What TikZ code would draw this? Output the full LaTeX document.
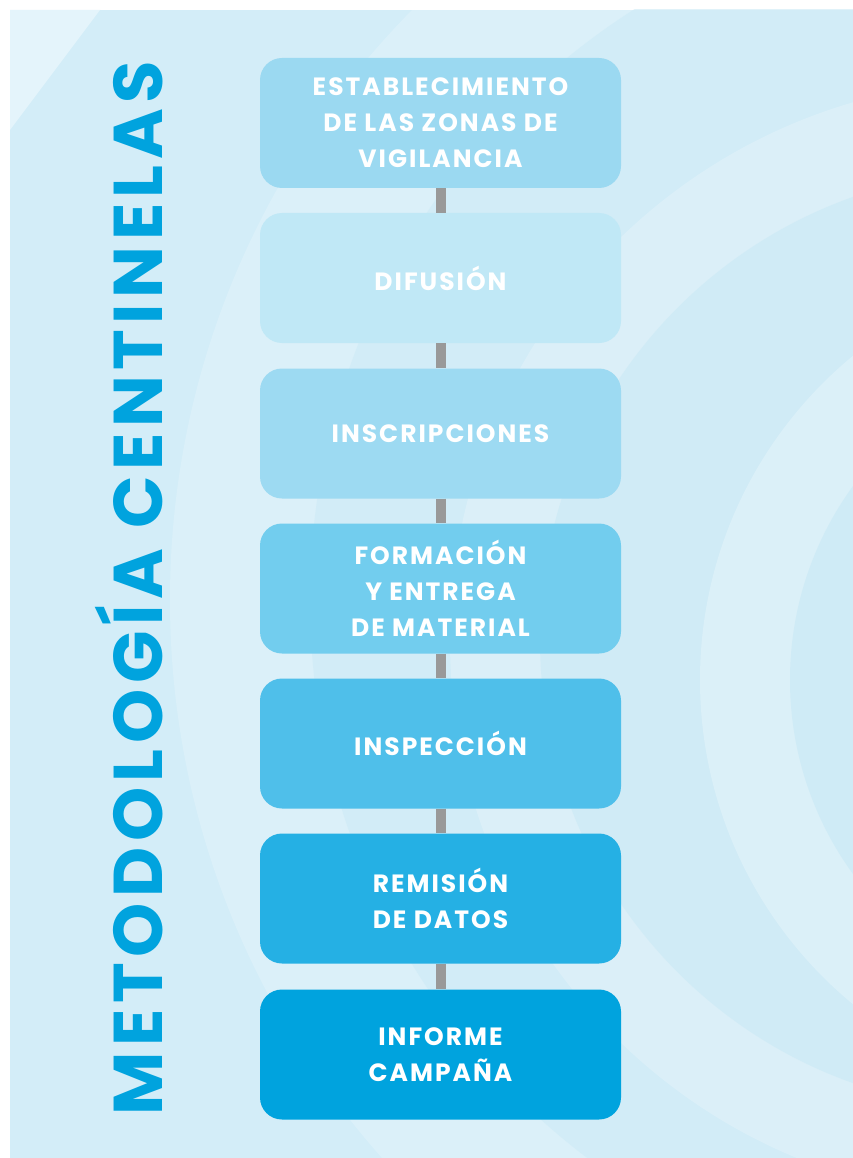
\documentclass[tikz,border=0pt]{standalone}
\usepackage{fontspec}
\newfontfamily\boxfont[LetterSpace=8]{Poppins}
\newfontfamily\titlefont[LetterSpace=8]{Poppins}
\definecolor{bgbase}{HTML}{D3EDF8}
\definecolor{bglight}{HTML}{E4F4FB}
\definecolor{bgdark}{HTML}{CCEAF6}
\definecolor{cA}{HTML}{9BD9F1}
\definecolor{cB}{HTML}{C0E8F6}
\definecolor{cC}{HTML}{9DDAF2}
\definecolor{cD}{HTML}{72CDEE}
\definecolor{cE}{HTML}{4FBFEA}
\definecolor{cF}{HTML}{25B0E4}
\definecolor{cG}{HTML}{00A3DE}
\definecolor{linkgray}{HTML}{999999}
\begin{document}
\begin{tikzpicture}[x=1pt,y=-1pt,
  stepbox/.style={rectangle, rounded corners=22pt, minimum width=361pt, minimum height=130pt,
    inner sep=0pt, align=center, text=white,
    font=\boxfont\bfseries\fontsize{25}{36}\selectfont},
  link/.style={draw=linkgray, line width=10pt}]
\useasboundingbox (0,0) rectangle (853,1158);
\fill[white] (0,0) rectangle (853,1158);
\begin{scope}
\clip (10,10) rectangle (853,1158);
\fill[bgbase] (10,10) rectangle (853,1158);
% decorative light shapes
\fill[bglight] (10,10) -- (100,10) -- (10,130) -- cycle;
\fill[white, opacity=0.2] (1010,600) circle (840);
\fill[bgdark, opacity=0.6] (1010,600) circle (700);
\fill[white, opacity=0.2] (1010,640) circle (560);
\fill[bgdark, opacity=0.7] (1010,640) circle (470);
\fill[white, opacity=0.25] (1120,680) circle (420);
\fill[bgdark, opacity=0.8] (1120,680) circle (330);
\end{scope}
% title
\node[rotate=90, text=cG, font=\titlefont\bfseries\fontsize{69}{70}\selectfont, inner sep=0pt]
  (title) at (129,588) {METODOLOGÍA CENTINELAS};
% steps
\node[stepbox, fill=cA] (s1) at (440.5,123) {ESTABLECIMIENTO\\DE LAS ZONAS DE\\VIGILANCIA};
\node[stepbox, fill=cB] (s2) at (440.5,278) {DIFUSIÓN};
\node[stepbox, fill=cC] (s3) at (440.5,433.5) {INSCRIPCIONES};
\node[stepbox, fill=cD] (s4) at (440.5,588.5) {FORMACIÓN\\Y ENTREGA\\DE MATERIAL};
\node[stepbox, fill=cE] (s5) at (440.5,743.5) {INSPECCIÓN};
\node[stepbox, fill=cF] (s6) at (440.5,898.5) {REMISIÓN\\DE DATOS};
\node[stepbox, fill=cG] (s7) at (440.5,1054.5) {INFORME\\CAMPAÑA};
\draw[link] (s1.south) -- (s2.north);
\draw[link] (s2.south) -- (s3.north);
\draw[link] (s3.south) -- (s4.north);
\draw[link] (s4.south) -- (s5.north);
\draw[link] (s5.south) -- (s6.north);
\draw[link] (s6.south) -- (s7.north);
\end{tikzpicture}
\end{document}
